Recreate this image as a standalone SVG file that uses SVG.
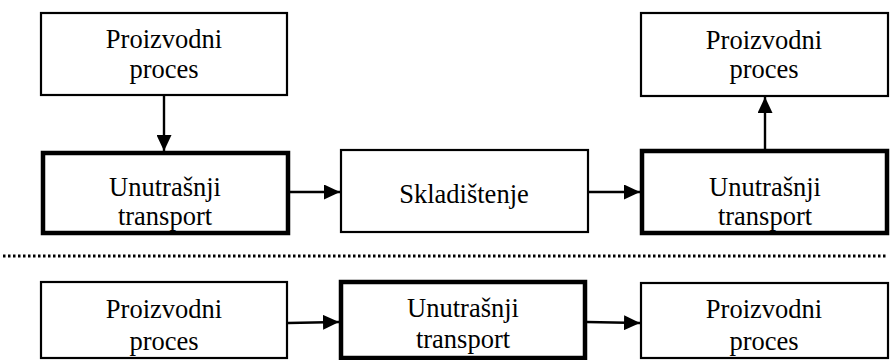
<svg xmlns="http://www.w3.org/2000/svg" width="890" height="360" viewBox="0 0 890 360">
  <defs>
    <marker id="arrow" viewBox="0 0 16 15" refX="16" refY="7.5" markerWidth="16" markerHeight="15" markerUnits="userSpaceOnUse" orient="auto">
      <path d="M0,0 L16,7.5 L0,15 Z" fill="#000"/>
    </marker>
  </defs>
  <style>
    .box { fill: #fff; stroke: #000; stroke-width: 2.2; }
    .thick { fill: #fff; stroke: #000; stroke-width: 4.5; }
    .lbl { font-family: "Liberation Serif", "Times New Roman", serif; font-size: 26.5px; fill: #000; text-anchor: middle; }
    .edge { stroke: #000; stroke-width: 2.4; fill: none; marker-end: url(#arrow); }
    .sep { stroke: #000; stroke-width: 3; stroke-dasharray: 2.5 2.5; }
  </style>
  <rect width="890" height="360" fill="#fff"/>

  <!-- top section -->
  <g id="proces-top-left">
    <rect class="box" x="41" y="13" width="246" height="82"/>
    <text class="lbl" x="164" y="48">Proizvodni</text>
    <text class="lbl" x="164" y="78">proces</text>
  </g>
  <g id="transport-top-left">
    <rect class="thick" x="43" y="153" width="245" height="80"/>
    <text class="lbl" x="165" y="196">Unutrašnji</text>
    <text class="lbl" x="165" y="225">transport</text>
  </g>
  <g id="skladistenje">
    <rect class="box" x="341" y="150" width="247" height="82"/>
    <text class="lbl" x="464" y="203">Skladištenje</text>
  </g>
  <g id="transport-top-right">
    <rect class="thick" x="642" y="151" width="245" height="82"/>
    <text class="lbl" x="765" y="196">Unutrašnji</text>
    <text class="lbl" x="765" y="225">transport</text>
  </g>
  <g id="proces-top-right">
    <rect class="box" x="641" y="13" width="247" height="83"/>
    <text class="lbl" x="764" y="49">Proizvodni</text>
    <text class="lbl" x="764" y="78">proces</text>
  </g>

  <!-- section separator -->
  <line class="sep" x1="3" y1="256" x2="888" y2="256"/>

  <!-- bottom section -->
  <g id="proces-bottom-left">
    <rect class="box" x="41" y="282" width="246" height="76"/>
    <text class="lbl" x="164" y="318">Proizvodni</text>
    <text class="lbl" x="164" y="350">proces</text>
  </g>
  <g id="transport-bottom">
    <rect class="thick" x="341" y="282" width="244" height="76"/>
    <text class="lbl" x="463" y="317">Unutrašnji</text>
    <text class="lbl" x="463" y="348">transport</text>
  </g>
  <g id="proces-bottom-right">
    <rect class="box" x="641" y="283" width="247" height="75"/>
    <text class="lbl" x="764" y="318">Proizvodni</text>
    <text class="lbl" x="764" y="350">proces</text>
  </g>

  <g id="connectors">
    <line class="edge" x1="164" y1="96" x2="164" y2="151"/>
    <line class="edge" x1="290" y1="192" x2="340" y2="192"/>
    <line class="edge" x1="589" y1="192" x2="640" y2="192"/>
    <line class="edge" x1="765" y1="149" x2="765" y2="97"/>
    <line class="edge" x1="288" y1="323" x2="339" y2="322"/>
    <line class="edge" x1="587" y1="322" x2="640" y2="323"/>
  </g>
</svg>
